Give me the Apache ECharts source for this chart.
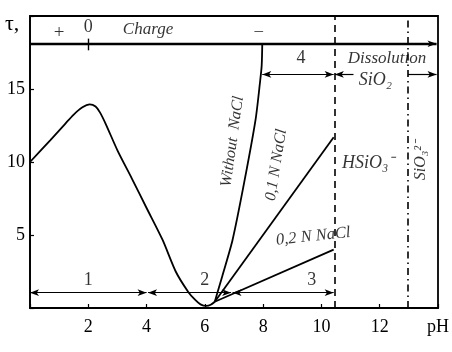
<!DOCTYPE html>
<html>
<head>
<meta charset="utf-8">
<script src="https://cdn.jsdelivr.net/npm/echarts@6/dist/echarts.min.js"></script>
<style>html,body{margin:0;padding:0;background:#fff}#c{width:452px;height:352px}</style>
</head>
<body>
<div id="c"></div>
<script>
// ---- data ----
var xTicks = [2, 4, 6, 8, 10, 12];
var yTicks = [5, 10, 15];
var mainCurve = [[0,10],[0.7,11.5],[1.2,12.6],[1.5,13.25],[1.8,13.75],[2.05,13.95],[2.25,13.8],[2.4,13.4],[2.6,12.6],[3.0,10.8],[3.5,8.85],[4.0,6.85],[4.55,4.66],[5.0,2.5],[5.43,1.1],[5.67,0.55],[5.85,0.25],[6.05,0.14],[6.2,0.22],[6.34,0.43]];
var withoutNaCl = [[6.34,0.43],[6.6,2.2],[6.95,4.66],[7.35,8.6],[7.74,12.9],[7.9,15.6],[7.95,16.6],[7.97,18.1]];
var naCl01 = [[6.34,0.43],[10.42,11.7]];
var naCl02 = [[6.34,0.43],[10.42,4.0]];
var bandLevel = 18.1;
var boundary1 = 10.44;   // dashed
var boundary2 = 12.95;   // dash-dot
var regionLevelLow = 1.05;
var regionLevelHigh = 16.0;
var lowRegions = [[0,4.0],[4.05,6.9],[6.95,10.42]];
var highRegions = [[7.97,10.42],[10.46,11.1],[12.97,13.95]];
var annotations = [
  {t:'+', x:1.0, y:18.85, it:false, fs:19},
  {t:'0', x:2.0, y:19.2, it:false, fs:18},
  {t:'Charge', x:4.05, y:19.05, it:true, fs:17},
  {t:'\u2013', x:7.85, y:19.0, it:false, fs:17},
  {t:'4', x:9.3, y:17.1, it:false, fs:18},
  {t:'Dissolution', x:12.25, y:17.1, it:true, fs:17},
  {t:'SiO\u2082', x:11.85, y:15.6, it:true, fs:18},
  {t:'1', x:2.0, y:1.9, it:false, fs:18},
  {t:'2', x:6.0, y:1.9, it:false, fs:18},
  {t:'3', x:9.67, y:1.9, it:false, fs:18},
  {t:'Without  NaCl', x:6.95, y:11.4, it:true, fs:16, r:82},
  {t:'0,1 N NaCl', x:8.45, y:9.8, it:true, fs:16, r:81},
  {t:'0,2 N NaCl', x:9.72, y:4.9, it:true, fs:16.5, r:6},
  {t:'HSiO\u2083\u207B', x:11.6, y:9.9, it:true, fs:18},
  {t:'SiO\u2083\u00B2\u207B', x:13.42, y:10.1, it:true, fs:16, r:90}
];

var FONT = "'Liberation Serif','Times New Roman',serif";
var chart = echarts.init(document.getElementById('c'));

function seg(a, b, y, sym, size) {
  return [{coord:[a,y], symbol:sym[0], symbolSize:size}, {coord:[b,y], symbol:sym[1], symbolSize:size}];
}
var markLines = [];
lowRegions.forEach(function(r){ markLines.push(seg(r[0], r[1], regionLevelLow, ['arrow','arrow'], [5,9])); });
highRegions.forEach(function(r, i){
  var s = i === 0 ? ['arrow','arrow'] : (i === 1 ? ['arrow','none'] : ['none','arrow']);
  markLines.push(seg(r[0], r[1], regionLevelHigh, s, [5,9]));
});

var lineSeries = function(d){
  return {type:'line', data:d, smooth:0.25, symbol:'none', silent:true,
    lineStyle:{color:'#000', width:1.8}, z:3};
};

chart.setOption({
  animation:false,
  grid:{left:30, right:9, top:16, bottom:44, show:true, borderColor:'#000', borderWidth:1.8, backgroundColor:'transparent'},
  xAxis:{type:'value', min:0, max:14, interval:2,
    axisLine:{show:true, lineStyle:{color:'#000', width:1.6}},
    axisTick:{show:true, inside:true, length:4, lineStyle:{color:'#000', width:1.2}},
    splitLine:{show:false},
    axisLabel:{color:'#000', fontFamily:FONT, fontSize:18, margin:10,
      formatter:function(v){ if (v===14) return 'pH'; return xTicks.indexOf(v)>=0 ? String(v) : ''; }}
  },
  yAxis:{type:'value', min:0, max:20, interval:5,
    axisLine:{show:true, lineStyle:{color:'#000', width:1.6}},
    axisTick:{show:true, inside:true, length:4, lineStyle:{color:'#000', width:1.2}},
    splitLine:{show:false},
    axisLabel:{color:'#000', fontFamily:FONT, fontSize:18, margin:5,
      formatter:function(v){ return yTicks.indexOf(v)>=0 ? String(v) : ''; }}
  },
  graphic:[{type:'text', left:5, top:13, style:{text:'\u03C4,', font:'22px '+FONT, fill:'#000'}}],
  series:[
    lineSeries(mainCurve),
    lineSeries(withoutNaCl),
    lineSeries(naCl01),
    lineSeries(naCl02),
    {type:'scatter', data:[], silent:true,
      markLine:{silent:true, symbol:['none','none'], label:{show:false},
        lineStyle:{color:'#000', width:1.2, type:'solid'},
        data: markLines.concat([
          [{coord:[0,bandLevel], lineStyle:{width:2.4}}, {coord:[13.95,bandLevel], symbol:'arrow', symbolSize:[5,9]}],
          [{coord:[2,bandLevel-0.45], lineStyle:{width:1.4}}, {coord:[2,bandLevel+0.35]}],
          [{coord:[boundary1,0], lineStyle:{width:1.6, type:[7,5]}}, {coord:[boundary1,20]}],
          [{coord:[boundary2,0], lineStyle:{width:1.6, type:[7,4,1.5,4]}}, {coord:[boundary2,20]}]
        ])
      }
    },
    {type:'scatter', silent:true, symbolSize:1, itemStyle:{color:'rgba(0,0,0,0)'}, z:5,
      data: annotations.map(function(a){
        return {value:[a.x,a.y], label:{show:true, position:'inside', formatter:a.t, rotate:a.r||0,
          color:'#000', fontFamily:FONT, fontSize:a.fs, fontStyle:a.it?'italic':'normal'}};
      })
    }
  ]
});
</script>
</body>
</html>
